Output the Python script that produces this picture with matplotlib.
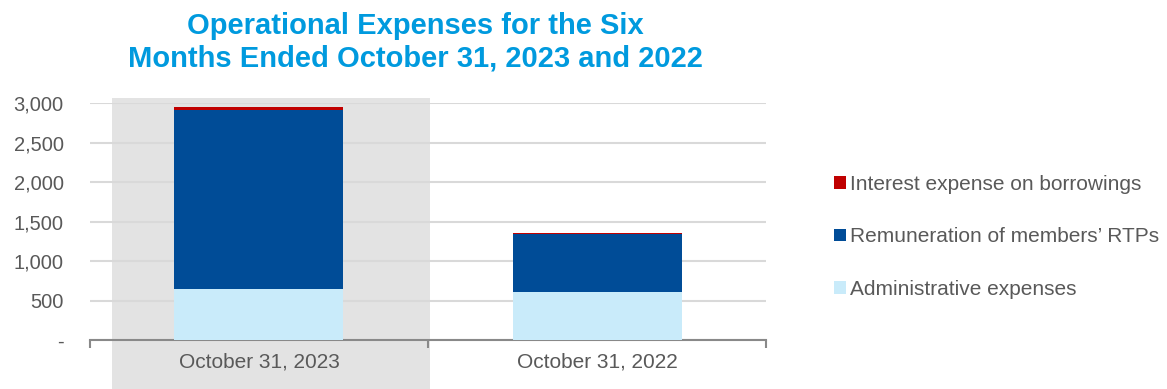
import matplotlib
matplotlib.use("Agg")
import matplotlib.pyplot as plt
from matplotlib.patches import Rectangle, Patch
import numpy as np

# six-month totals
periods = ["October 31, 2023", "October 31, 2022"]
admin = [642, 604]
remuneration = [2274, 738]
interest = [30, 16]
series_names = [
    "Administrative expenses",
    "Remuneration of members\u2019 RTPs",
    "Interest expense on borrowings",
]
yticks = [0, 500, 1000, 1500, 2000, 2500, 3000]
ytick_labels = ["-", "500", "1,000", "1,500", "2,000", "2,500", "3,000"]

colors = ["#C9EBFA", "#004C97", "#C00000"]
text_grey = "#595959"

plt.rcParams["font.family"] = ["Liberation Sans", "DejaVu Sans"]

fig = plt.figure(figsize=(11.67, 3.89), dpi=100)

# grey highlight behind the current period
fig.patches.append(
    Rectangle((0.096, 0.0), 0.2725, 0.748, transform=fig.transFigure,
              facecolor="#E3E3E3", edgecolor="none", zorder=-1)
)

ax = fig.add_axes([0.0771, 0.126, 0.5793, 0.609])
ax.set_facecolor("none")

x = np.arange(len(periods))
w = 0.5
bottom = np.zeros(len(periods))
for vals, c, name in zip([admin, remuneration, interest], colors, series_names):
    ax.bar(x, vals, w, bottom=bottom, color=c, label=name, zorder=3)
    bottom += np.array(vals)

ax.set_xlim(-0.5, 1.5)
ax.set_ylim(0, 3000)
ax.set_yticks(yticks)
ax.set_yticklabels(ytick_labels)
ax.yaxis.grid(True, color="#D9D9D9", linewidth=1.5, zorder=1)
ax.set_axisbelow(True)

ax.set_xticks(x)
ax.set_xticklabels(periods)
ax.set_xticks([-0.5, 0.5, 1.5], minor=True)
ax.tick_params(axis="x", which="major", length=0, pad=9, labelsize=15, labelcolor=text_grey)
ax.tick_params(axis="x", which="minor", length=6, width=1.5, color="#898989")
ax.tick_params(axis="y", length=0, pad=19, labelsize=14.5, labelcolor=text_grey)

for s in ["top", "right", "left"]:
    ax.spines[s].set_visible(False)
ax.spines["bottom"].set_color("#898989")
ax.spines["bottom"].set_linewidth(1.5)

fig.text(0.356, 0.892, "Operational Expenses for the Six\nMonths Ended October 31, 2023 and 2022",
         ha="center", va="center", fontsize=21, fontweight="bold", color="#009ADE",
         linespacing=1.2)

handles = [Patch(facecolor=c) for c in colors][::-1]
leg = fig.legend(handles, series_names[::-1], loc="center left",
                 bbox_to_anchor=(0.7147, 0.391), frameon=False, fontsize=15,
                 handlelength=0.57, handleheight=0.57, handletextpad=0.2,
                 labelspacing=1.6, borderpad=0, borderaxespad=0)
for t in leg.get_texts():
    t.set_color(text_grey)

fig.savefig("out.png", dpi=100)
